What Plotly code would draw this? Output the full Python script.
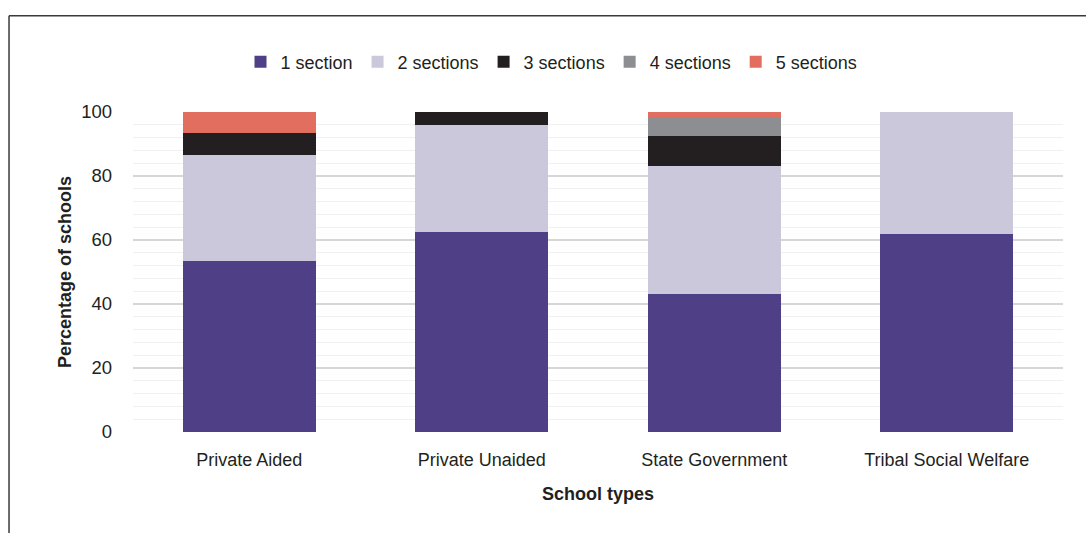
import plotly.graph_objects as go

# School types on the x axis
school_types = ["Private Aided", "Private Unaided", "State Government", "Tribal Social Welfare"]

# Share of schools (%) by number of sections
one_section = [53.3, 62.5, 43.1, 62.0]
two_sections = [33.4, 33.3, 39.9, 38.0]
three_sections = [6.6, 4.2, 9.4, 0.0]
four_sections = [0.0, 0.0, 5.9, 0.0]
five_sections = [6.7, 0.0, 1.7, 0.0]

series_names = ["1 section", "2 sections", "3 sections", "4 sections", "5 sections"]
series_colors = ["#4F3F86", "#CCC8DB", "#231F20", "#8D8E92", "#E26E60"]
series_values = [one_section, two_sections, three_sections, four_sections, five_sections]

FONT = "Liberation Sans, Arial, sans-serif"

fig = go.Figure()
for name, color, values in zip(series_names, series_colors, series_values):
    fig.add_trace(go.Bar(
        x=school_types,
        y=values,
        name=name,
        marker=dict(color=color, line=dict(width=0)),
    ))

fig.update_layout(
    barmode="stack",
    bargap=0.43,
    width=1086,
    height=533,
    margin=dict(l=133, r=23, t=112, b=101),
    paper_bgcolor="white",
    plot_bgcolor="white",
    font=dict(family=FONT, size=18, color="#231F20"),
    legend=dict(
        orientation="h",
        x=0.45, xanchor="center",
        y=1.156, yanchor="middle",
        font=dict(size=18),
        itemsizing="constant",
        traceorder="normal",
    ),
    xaxis=dict(
        title=dict(text="<b>School types</b>", font=dict(size=18), standoff=18),
        showline=False,
        ticks="",
        ticklabelstandoff=15,
        tickfont=dict(size=18),
    ),
    yaxis=dict(
        title=dict(text="<b>Percentage of schools</b>", font=dict(size=18), standoff=4),
        range=[0, 100],
        dtick=20,
        showgrid=True,
        gridcolor="#D6D6D6",
        gridwidth=1.5,
        zeroline=False,
        ticks="",
        ticklabelstandoff=20,
        tickfont=dict(size=18.5),
        minor=dict(dtick=4, showgrid=True, gridcolor="#F0F0F0", gridwidth=1),
    ),
)

# Outer frame: top and left edges of the chart box
fig.add_shape(type="line", xref="paper", yref="paper",
              x0=-0.1333, y0=1.301, x1=1.03, y1=1.301,
              line=dict(color="#3A3A3A", width=1.5))
fig.add_shape(type="line", xref="paper", yref="paper",
              x0=-0.1333, y0=1.301, x1=-0.1333, y1=-0.33,
              line=dict(color="#3A3A3A", width=1.5))

fig.write_html("out.html")
